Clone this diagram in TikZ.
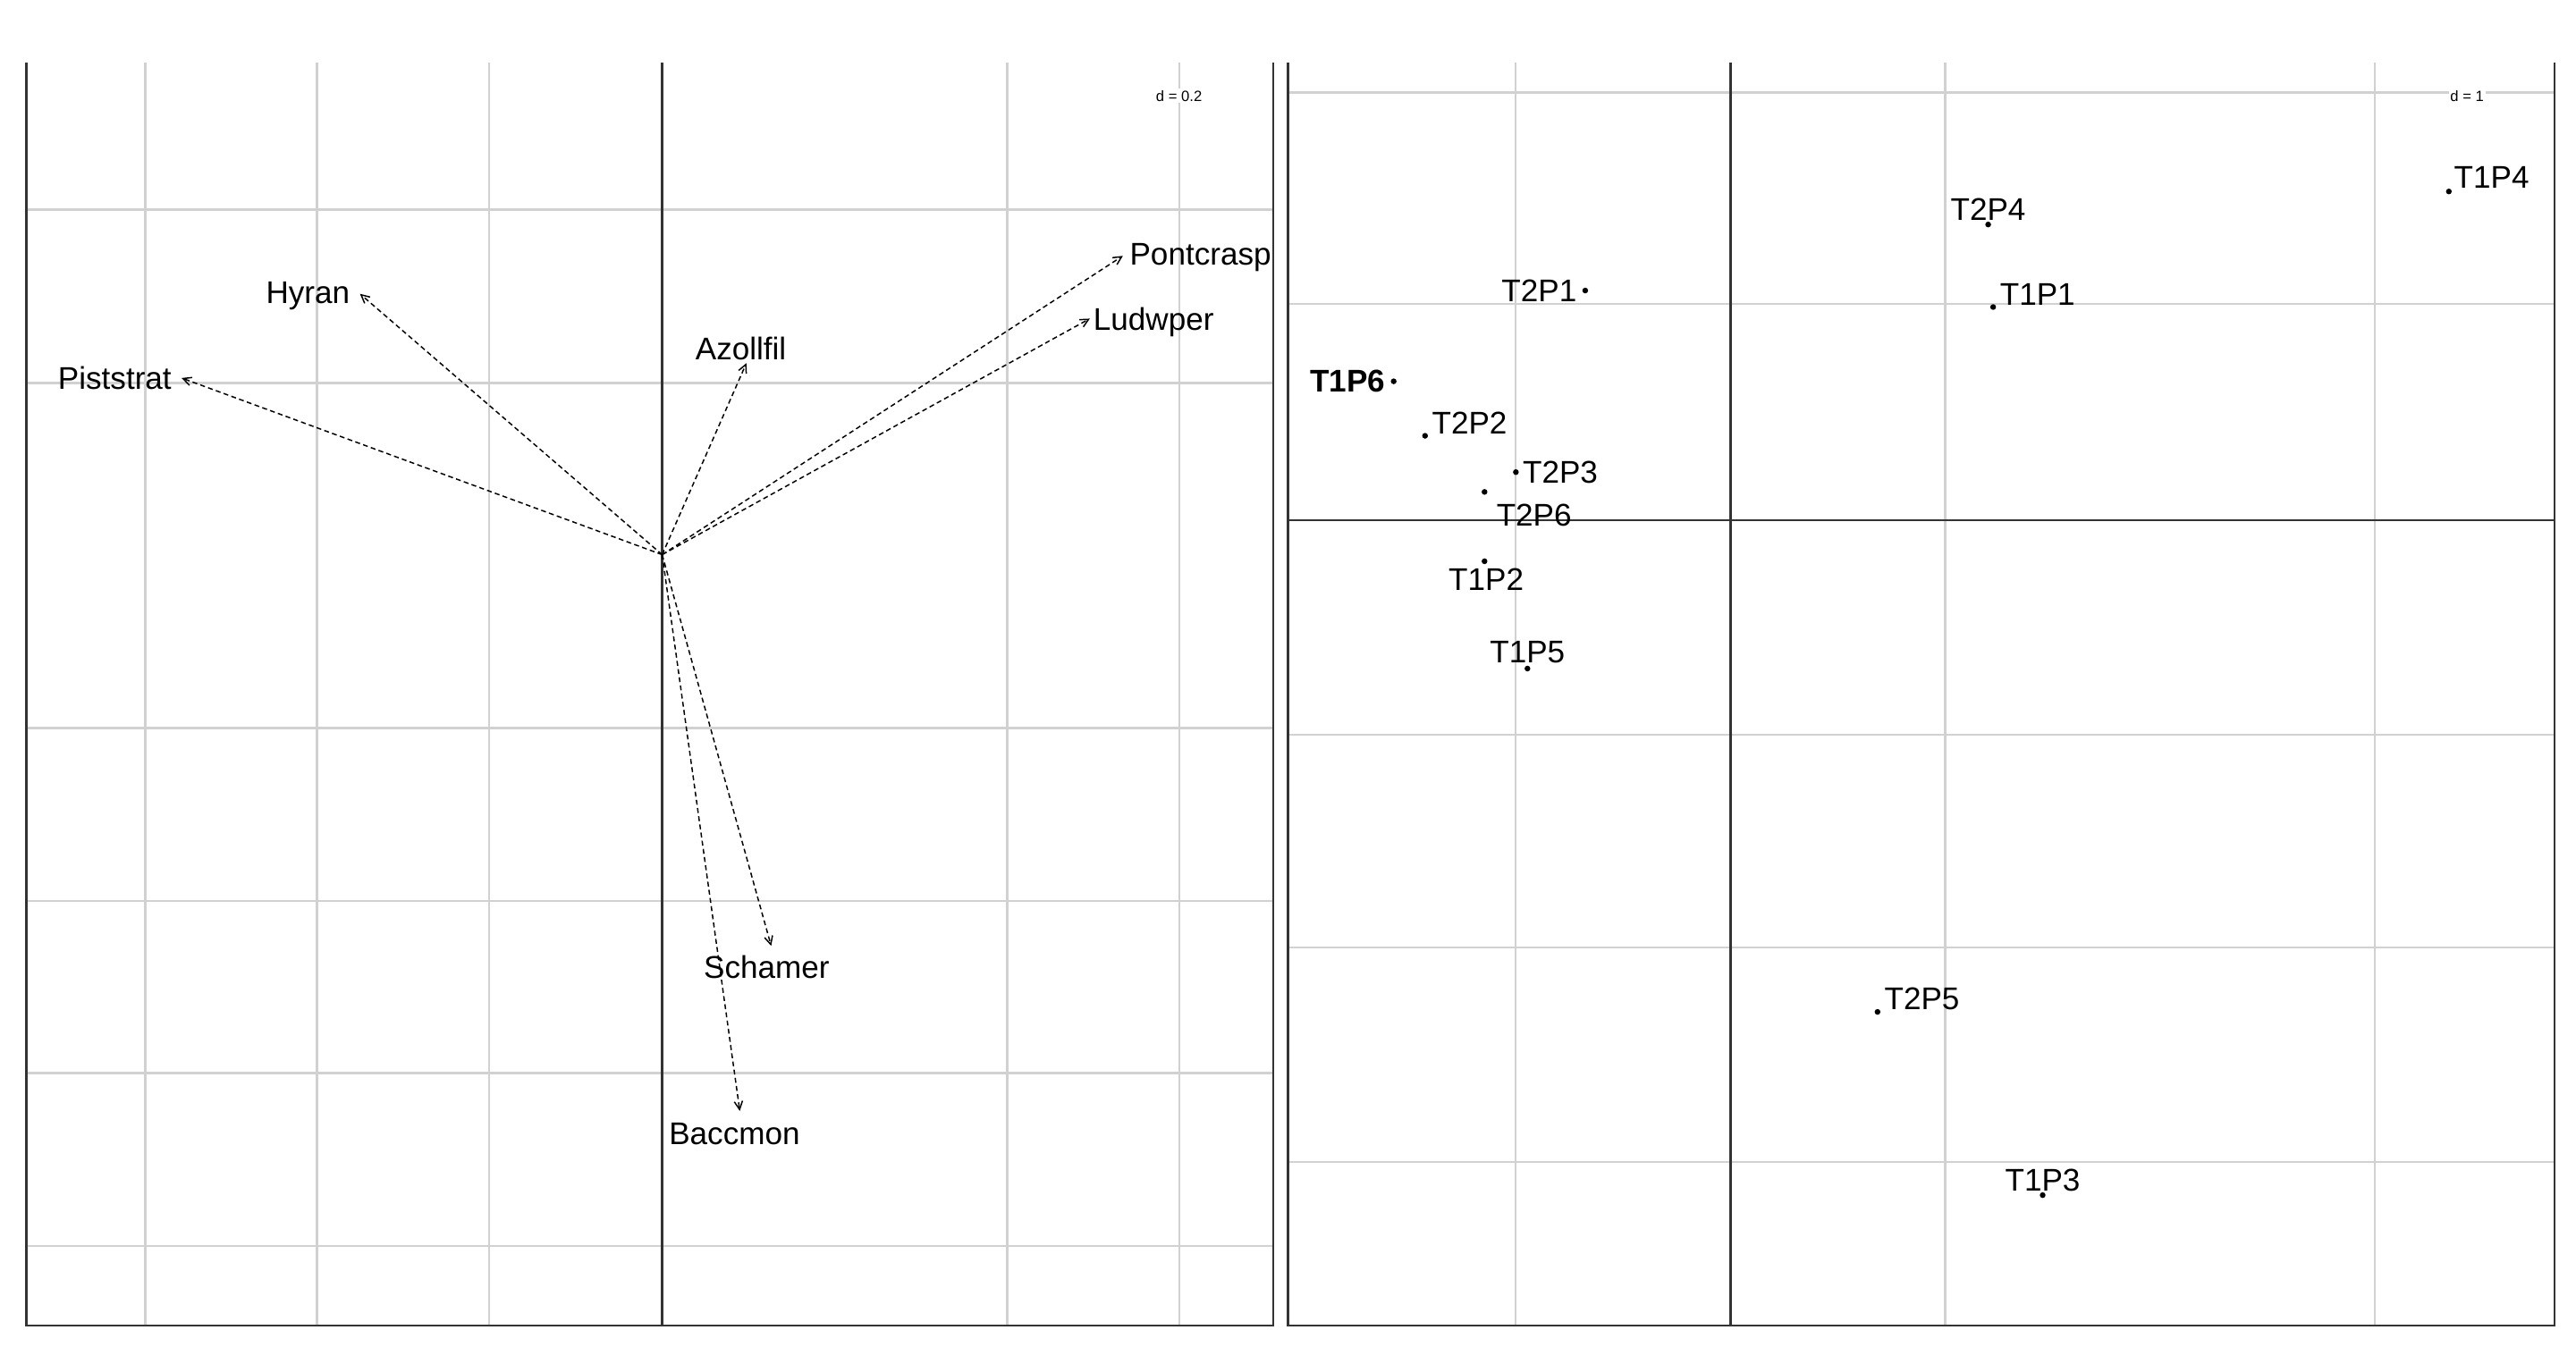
\documentclass[tikz,border=0pt]{standalone}
\usepackage{fontspec}
\setmainfont{Liberation Sans}
\usetikzlibrary{arrows.meta}
\begin{document}
\begin{tikzpicture}[x=1pt,y=-1pt,
  grid/.style={draw=black!18,line width=1.2},
  axis/.style={draw=black!80,line width=1.3},
  arr/.style={densely dashed,line width=0.8,-{Straight Barb[length=5,width=5]}},
  lab/.style={font=\fontsize{19}{19}\selectfont,inner sep=0},
  pt/.style={circle,fill=black,inner sep=0,minimum size=3.5}]
\useasboundingbox (0,0) rectangle (1560,816);
% left panel
\foreach \x in {88,192,296,610,714} \draw[grid] (\x,38)--(\x,803);
\foreach \y in {127,232,441,546,650,755} \draw[grid] (16,\y)--(771,\y);
\draw[axis] (401,38)--(401,803);
\node[font=\fontsize{9}{9}\selectfont,fill=white,inner sep=1] at (714,58) {d = 0.2};
\coordinate (o) at (401,336);
\foreach \n/\x/\y in {pi/110/229,hy/218/178,az/452/220,po/680/155,lu/660/193,sc/467/573,ba/448/673}
  \coordinate (\n) at (\x,\y);
\foreach \n in {pi,hy,az,po,lu,sc,ba} \draw[arr] (o)--(\n);
\node[lab,anchor=east] (tpi) at (104,229) {Piststrat};
\node[lab,anchor=east] (thy) at (212,179) {Hyran};
\node[lab,anchor=west] (taz) at (421,211) {Azollfil};
\begin{scope}
\clip (16,38) rectangle (771,803);
\node[lab,anchor=west] (tpo) at (684,156) {Pontcrasp};
\end{scope}
\node[lab,anchor=west] (tlu) at (662,195) {Ludwper};
\node[lab,anchor=west] (tsc) at (426,586) {Schamer};
\node[lab,anchor=west] (tba) at (405,687) {Baccmon};
\draw[axis] (16,38)--(16,803)--(771,803)--(771,38);
% right panel
\foreach \x in {918,1178,1438} \draw[grid] (\x,38)--(\x,803);
\foreach \y in {56,184,445,574,704} \draw[grid] (780,\y)--(1547,\y);
\draw[axis] (1048,38)--(1048,803);
\draw[axis] (780,315)--(1547,315);
\draw[axis] (780,38)--(780,803)--(1547,803)--(1547,38);
\node[font=\fontsize{9}{9}\selectfont,fill=white,inner sep=1] at (1494,58) {d = 1};
\foreach \n/\x/\y in {a/1483/116,b/1204/136,c/1207/186,d/960/176,e/844/231,f/863/264,g/918/286,h/899/298,i/899/340,j/925/405,k/1137/613,l/1237/724}
  \node[pt] (p\n) at (\x,\y) {};
\node[lab,anchor=south west] at ([shift={(3,-2)}]pa) {T1P4};
\node[lab] at (1204,127) {T2P4};
\node[lab,anchor=south west] at ([shift={(4,-1)}]pc) {T1P1};
\node[lab,anchor=east] at ([xshift=-5]pd) {T2P1};
\node[lab,anchor=east,font=\bfseries\fontsize{19}{19}\selectfont] at ([xshift=-5]pe) {T1P6};
\node[lab,anchor=south west] at ([shift={(4,-1)}]pf) {T2P2};
\node[lab,anchor=west] at ([xshift=4]pg) {T2P3};
\node[lab] at (929,312) {T2P6};
\node[lab] at (900,351) {T1P2};
\node[lab] at (925,395) {T1P5};
\node[lab,anchor=south west] at ([shift={(4,-1)}]pk) {T2P5};
\node[lab] at (1237,715) {T1P3};
\end{tikzpicture}
\end{document}
